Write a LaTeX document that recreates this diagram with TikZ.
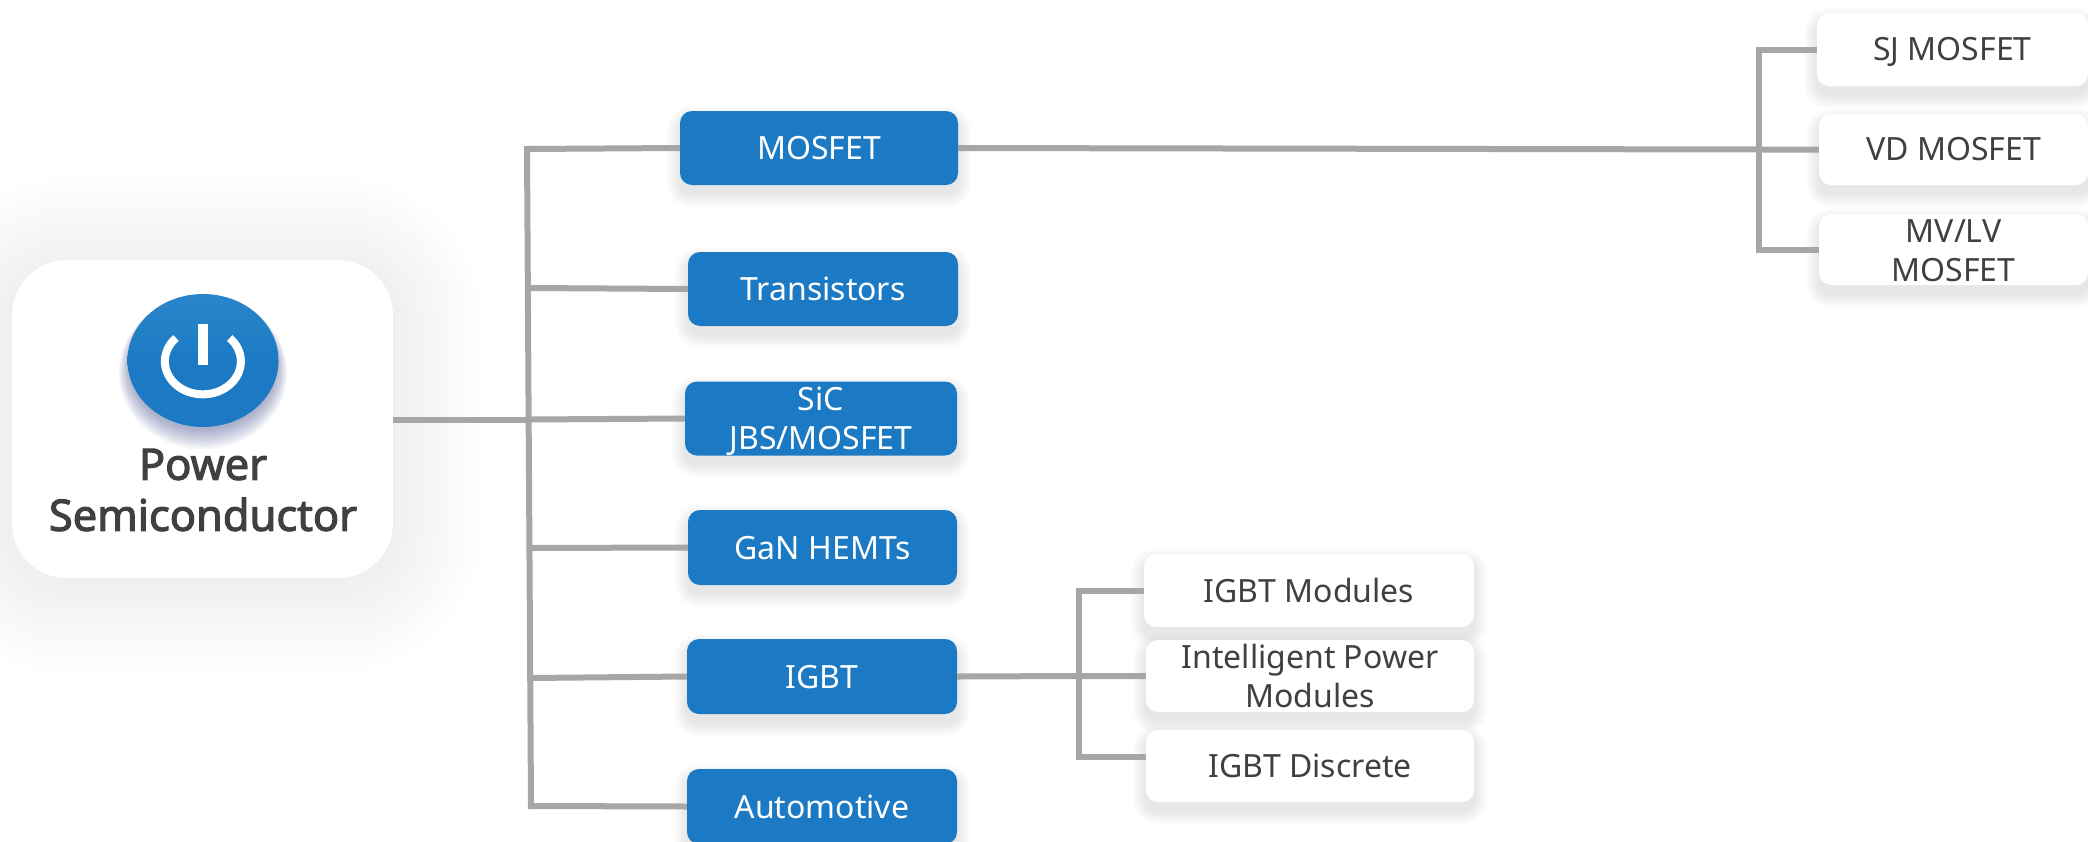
\documentclass[tikz,border=0pt]{standalone}
\usepackage{fontspec}
\setmainfont{Noto Sans}
\newfontfamily\rootfont[FakeBold=2.5]{Noto Sans}
\definecolor{brandblue}{HTML}{1B7AC3}
\definecolor{brandlight}{HTML}{2A86CB}
\definecolor{linkgray}{HTML}{A6A6A6}
\definecolor{inkgray}{HTML}{404040}
\definecolor{haloblue}{HTML}{3A4A8A}
\newcommand{\softbox}[5]{% x1 y1 x2 y2 radius
  \foreach \g in {1,2,...,12} {
    \fill[black,opacity=.008,rounded corners={#5+\g*1pt}]
      ({#1-\g*1.1},{#2+8-\g*1.1}) rectangle ({#3+\g*1.1},{#4+9+\g*1.1});
  }
}
\newcommand{\dn}[2]{\raisebox{-#1pt}[\height][\depth]{#2}}
\tikzset{
  x=1pt,y=-1pt,
  link/.style={draw=linkgray,line width=6pt},
  bluebox/.style={fill=brandblue,text=white,rounded corners=12pt,inner sep=0pt,align=center,
    font=\fontsize{32}{39}\selectfont},
  whitebox/.style={fill=white,text=inkgray,rounded corners=12pt,inner sep=0pt,align=center,
    font=\fontsize{32}{39}\selectfont},
  rootbox/.style={fill=white,rounded corners=55pt,inner sep=0pt},
  roottext/.style={text=inkgray,inner sep=0pt,align=center,
    font=\fontsize{43.4}{51}\rootfont\selectfont},
  iconline/.style={draw=white,line width=8pt},
}
\begin{document}
\begin{tikzpicture}
\useasboundingbox (0,0) rectangle (2088,841);
\clip (0,0) rectangle (2088,841);
\fill[white] (0,0) rectangle (2088,841);

% root shadow
\foreach \g in {6,12,...,90} {
  \fill[black,opacity=.0045,rounded corners={(55+\g)*1pt}]
    ({12-\g},{260-\g+6}) rectangle ({393+\g},{578+\g+6});
}
% box shadows
\softbox{680}{111}{958}{185}{12pt}
\softbox{688}{252}{958}{326}{12pt}
\softbox{685}{381}{957}{455}{12pt}
\softbox{688}{510}{957}{585}{12pt}
\softbox{687}{639}{957}{714}{12pt}
\softbox{687}{769}{957}{844}{12pt}
\softbox{1144}{554}{1474}{627}{12pt}
\softbox{1146}{640}{1474}{712}{12pt}
\softbox{1146}{730}{1474}{802}{12pt}
\softbox{1817}{13}{2088}{86}{12pt}
\softbox{1819}{114}{2088}{185}{12pt}
\softbox{1819}{214}{2088}{285}{12pt}

% nodes
\node[rootbox,minimum width=381pt,minimum height=318pt] (root) at (202.5,419) {};
\node[bluebox,minimum width=278pt,minimum height=74pt] (mosfet) at (819,148) {MOSFET};
\node[bluebox,minimum width=270pt,minimum height=74pt] (trans) at (823,289) {Transistors};
\node[bluebox,minimum width=272pt,minimum height=74pt] (sic) at (821,418.5) {\dn{2.5}{SiC}\\\dn{2.5}{JBS/MOSFET}};
\node[bluebox,minimum width=269pt,minimum height=75pt] (gan) at (822.5,547.5) {\dn{1}{GaN HEMTs}};
\node[bluebox,minimum width=270pt,minimum height=75pt] (igbt) at (822,676.5) {\dn{1}{IGBT}};
\node[bluebox,minimum width=270pt,minimum height=75pt] (auto) at (822,806.5) {\dn{0.5}{Automotive}};
\node[whitebox,minimum width=330pt,minimum height=73pt] (mods) at (1309,590.5) {IGBT Modules};
\node[whitebox,minimum width=328pt,minimum height=72pt] (ipm) at (1310,676) {Intelligent Power\\Modules};
\node[whitebox,minimum width=328pt,minimum height=72pt] (disc) at (1310,766) {IGBT Discrete};
\node[whitebox,minimum width=271pt,minimum height=73pt] (sj) at (1952.5,49.5) {\dn{2}{SJ MOSFET}};
\node[whitebox,minimum width=269pt,minimum height=71pt] (vd) at (1953.5,149.5) {VD MOSFET};
\node[whitebox,minimum width=269pt,minimum height=71pt] (mv) at (1953.5,249.5) {\dn{1}{MV/LV}\\\dn{1}{MOSFET}};

% junctions
\coordinate (busA) at (527,149);
\coordinate (busB) at (527.5,288);
\coordinate (busC) at (528.5,419.5);
\coordinate (busD) at (529.5,548);
\coordinate (busE) at (530,678);
\coordinate (busF) at (531,806);
\coordinate (forkA) at (1759,49.5);
\coordinate (forkB) at (1759,149.5);
\coordinate (forkC) at (1759,249.5);
\coordinate (lowA) at (1079,590.5);
\coordinate (lowB) at (1079,676);
\coordinate (lowC) at (1079,757);
\coordinate (discIn) at (disc.west |- lowC);
\coordinate (rootOut) at (root.east |- busC);

% connectors
\draw[link] (rootOut) -- (busC);
\draw[link,line cap=rect] (busA) -- (busF);
\draw[link] (busA) -- (mosfet.west);
\draw[link] (busB) -- (trans.west);
\draw[link] (busC) -- (sic.west);
\draw[link] (busD) -- (gan.west);
\draw[link] (busE) -- (igbt.west);
\draw[link] (busF) -- (auto.west);
\draw[link] (mosfet.east) -- (forkB) -- (vd.west);
\draw[link,line cap=rect] (forkA) -- (forkC);
\draw[link] (forkA) -- (sj.west);
\draw[link] (forkC) -- (mv.west);
\draw[link] (igbt.east) -- (lowB) -- (ipm.west);
\draw[link,line cap=rect] (lowA) -- (lowC);
\draw[link] (lowA) -- (mods.west);
\draw[link] (lowC) -- (discIn);

% icon
\foreach \g in {1,2,...,14} {
  \fill[haloblue,opacity=.035]
    (203,{360.5+4+\g*0.6}) ellipse [x radius={73+\g*0.8},y radius={64+\g*0.9}];
}
\shade[top color=brandlight,bottom color=brandblue,middle color=brandblue]
  (203,360.5) ellipse [x radius=75.5,y radius=66.5];
\draw[iconline] (176,338) arc [start angle=225,end angle=-45,x radius=38,y radius=33];
\draw[draw=white,line width=10pt] (203,324) -- (203,365);

\node[roottext] (roottxt) at (203,490) {Power\\Semiconductor};
\end{tikzpicture}
\end{document}
